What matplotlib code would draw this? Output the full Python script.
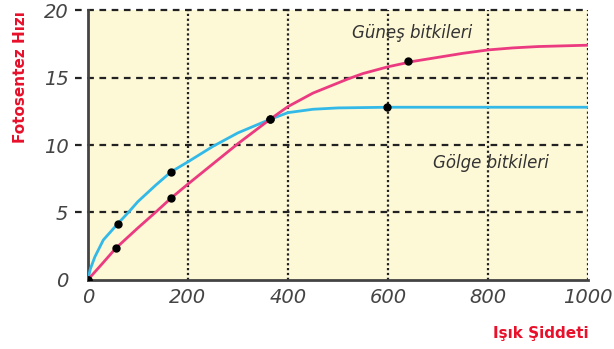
import matplotlib.pyplot as plt

# values
sun_x = [0, 30, 56, 100, 138, 166, 200, 250, 300, 364, 400, 450, 500, 520, 550, 600, 650, 700, 750, 800, 850, 900, 1000]
sun_y = [0, 1.25, 2.35, 3.85, 5.1, 6.05, 7.1, 8.6, 10.1, 11.9, 12.85, 13.85, 14.6, 14.9, 15.3, 15.8, 16.2, 16.5, 16.8, 17.05, 17.2, 17.3, 17.4]
shade_x = [0, 5, 14, 31, 60, 81, 100, 135, 166, 200, 250, 300, 364, 400, 450, 500, 600, 800, 1000]
shade_y = [0, 0.8, 1.7, 2.96, 4.17, 5.0, 5.8, 7.0, 8.0, 8.75, 9.9, 10.9, 11.9, 12.4, 12.65, 12.75, 12.8, 12.8, 12.8]

sun_pts_x = [0, 56, 166, 364, 640]
sun_pts_y = [0, 2.35, 6.05, 11.9, 16.2]
shade_pts_x = [0, 60, 166, 364, 598]
shade_pts_y = [0, 4.17, 8.0, 11.9, 12.85]

xticks = [0, 200, 400, 600, 800, 1000]
yticks = [0, 5, 10, 15, 20]

fig = plt.figure(figsize=(6.14, 3.49), dpi=100)
ax = fig.add_axes([0.143, 0.198, 0.815, 0.773])
ax.set_facecolor('#fdf8d6')

for y in yticks[1:]:
    ax.plot([-25, 1000], [y, y], color='#222222', lw=1.6, ls=(0, (3, 2.5)), clip_on=False, zorder=1)
for x in xticks[1:]:
    ax.axvline(x, color='#222222', lw=1.6, ls=(0, (1, 1.2)), zorder=1)

ax.plot(shade_x, shade_y, color='#33b9e8', lw=2, zorder=3, solid_joinstyle='round')
ax.plot(sun_x, sun_y, color='#ec3a80', lw=2, zorder=3, solid_joinstyle='round')
ax.plot(sun_pts_x, sun_pts_y, 'o', color='black', ms=5, zorder=4)
ax.plot(shade_pts_x, shade_pts_y, 'o', color='black', ms=5, zorder=4)

ax.set_xlim(0, 1000)
ax.set_ylim(0, 20)
ax.set_xticks(xticks)
ax.set_yticks(yticks)
ax.tick_params(length=0, labelsize=14, labelcolor='#444444')
ax.tick_params(axis='y', pad=14)
ax.tick_params(axis='x', pad=6)
for lab in ax.get_xticklabels() + ax.get_yticklabels():
    lab.set_style('italic')

for s in ['top', 'right']:
    ax.spines[s].set_visible(False)
for s in ['left', 'bottom']:
    ax.spines[s].set_color('#444444')
    ax.spines[s].set_linewidth(2)

ax.text(648, 18.3, 'Güneş bitkileri', fontsize=12, style='italic', color='#333333', ha='center', va='center')
ax.text(805, 8.7, 'Gölge bitkileri', fontsize=12, style='italic', color='#333333', ha='center', va='center')

fig.text(0.033, 0.78, 'Fotosentez Hızı', rotation=90, color='#e8102a', fontsize=11,
         fontweight='bold', ha='center', va='center')
fig.text(0.88, 0.045, 'Işık Şiddeti', color='#e8102a', fontsize=11,
         fontweight='bold', ha='center', va='center')

fig.savefig('out.png', dpi=100)
